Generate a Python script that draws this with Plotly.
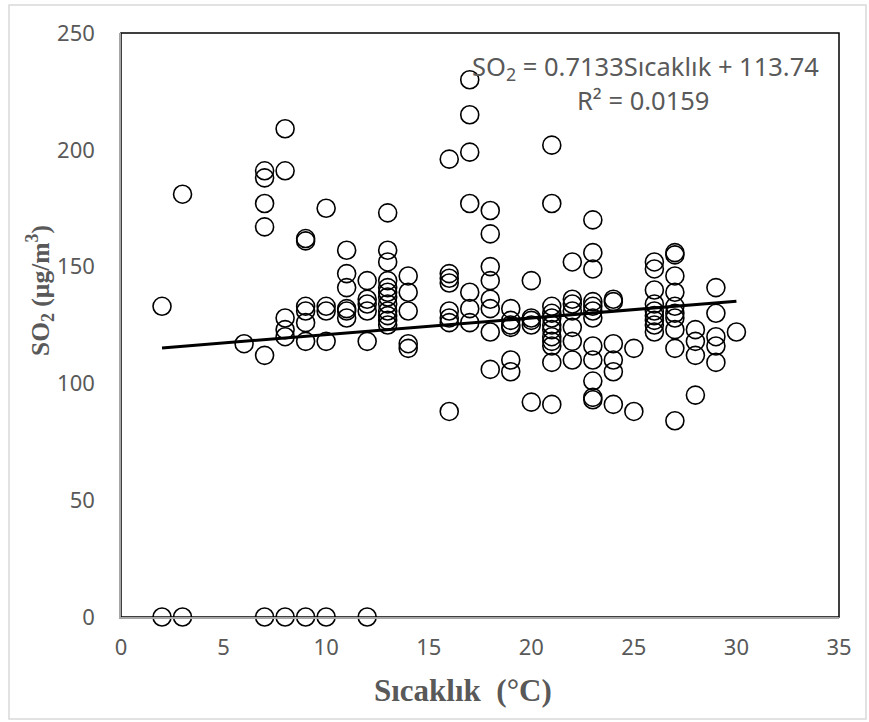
import plotly.graph_objects as go

# Data
groups_t = [2, 3, 6, 7, 8, 9, 10, 11, 12, 13, 14, 16, 17, 18, 19, 20, 21, 22, 23, 24, 25, 26, 27, 28, 29, 30]
groups_so2 = [
    [133, 0],
    [181, 0],
    [117],
    [191, 188, 177, 167, 112, 0],
    [209, 191, 128, 123, 120, 0],
    [162, 161, 133, 131, 126, 118, 0],
    [175, 133, 131, 118, 0],
    [157, 147, 141, 132, 131, 128],
    [144, 136, 134, 131, 118, 0],
    [173, 157, 152, 144, 141, 139, 137, 134, 131, 129, 127, 125],
    [146, 139, 131, 117, 115],
    [196, 147, 145, 143, 131, 128, 126, 88],
    [230, 215, 199, 177, 139, 132, 126],
    [174, 164, 150, 144, 136, 132, 122, 106],
    [132, 127, 125, 124, 110, 105],
    [144, 128, 127, 125, 92],
    [202, 177, 133, 130, 128, 125, 123, 120, 118, 116, 109, 91],
    [152, 136, 134, 131, 124, 118, 110],
    [170, 156, 149, 135, 133, 131, 128, 116, 110, 101, 94, 93],
    [136, 135, 117, 110, 105, 91],
    [115, 88],
    [152, 149, 140, 134, 131, 129, 127, 125, 122],
    [156, 155, 146, 139, 133, 130, 128, 123, 115, 84],
    [123, 118, 112, 95],
    [141, 130, 120, 116, 109],
    [122],
]
trend_slope = 0.7133
trend_intercept = 113.74
equation_text = "SO<sub>2</sub> = 0.7133Sıcaklık + 113.74"
r2_text = "R² = 0.0159"
x_ticks = [0, 5, 10, 15, 20, 25, 30, 35]
y_ticks = [0, 50, 100, 150, 200, 250]

sicaklik = []
so2 = []
for t, vals in zip(groups_t, groups_so2):
    for v in vals:
        sicaklik.append(t)
        so2.append(v)

fig = go.Figure()
fig.add_trace(go.Scatter(
    x=sicaklik, y=so2, mode="markers",
    marker=dict(symbol="circle-open", size=18, color="black", line=dict(width=1.6, color="black")),
    cliponaxis=False, showlegend=False,
))
xmin, xmax = min(sicaklik), max(sicaklik)
fig.add_trace(go.Scatter(
    x=[xmin, xmax],
    y=[trend_slope * xmin + trend_intercept, trend_slope * xmax + trend_intercept],
    mode="lines", line=dict(color="black", width=3), showlegend=False,
))

W, H = 869, 722
L, R, T, B = 121, 30, 33, 105
pw, ph = W - L - R, H - T - B

def px(xp):
    return (xp - L) / pw

def py(yp):
    return (H - B - yp) / ph

tick_font = dict(family="Liberation Sans Narrow, Noto Sans", size=22, color="#595959")
ann_font = dict(family="Noto Sans", size=25.5, color="#595959")
fig.update_layout(
    width=W, height=H,
    margin=dict(l=L, r=R, t=T, b=B),
    paper_bgcolor="white", plot_bgcolor="white",
    xaxis=dict(range=[0, 35], tickvals=x_ticks, showgrid=False, zeroline=False,
               showline=True, linecolor="#a6a6a6", linewidth=1.5, ticks="",
               tickfont=tick_font, ticklabelstandoff=10),
    yaxis=dict(range=[0, 250], tickvals=y_ticks, showgrid=False, zeroline=False,
               showline=True, linecolor="#a6a6a6", linewidth=1.5, ticks="",
               tickfont=tick_font, ticklabelstandoff=20),
    shapes=[
        dict(type="rect", xref="paper", yref="paper", x0=0, x1=1, y0=0, y1=1,
             line=dict(color="black", width=1.5), layer="below"),
        dict(type="rect", xref="paper", yref="paper", x0=px(9), x1=px(866), y0=py(719), y1=py(5),
             line=dict(color="#d9d9d9", width=1.5), layer="below"),
    ],
    annotations=[
        dict(text=equation_text, xref="paper", yref="paper", x=px(645), y=py(67),
             xanchor="center", yanchor="middle", showarrow=False, font=ann_font),
        dict(text=r2_text, xref="paper", yref="paper", x=px(643), y=py(100),
             xanchor="center", yanchor="middle", showarrow=False, font=ann_font),
        dict(text="<b>Sıcaklık  (°C)</b>", xref="paper", yref="paper", x=px(463), y=py(690),
             xanchor="center", yanchor="middle", showarrow=False,
             font=dict(family="Liberation Serif", size=31, color="#595959")),
        dict(text="<b>SO<sub>2</sub> (µg/m<sup>3</sup>)</b>", xref="paper", yref="paper",
             x=px(40), y=py(291), xanchor="center", yanchor="middle", textangle=-90,
             showarrow=False, font=dict(family="Liberation Serif", size=25.5, color="#595959")),
    ],
)
fig.write_html("out.html")
